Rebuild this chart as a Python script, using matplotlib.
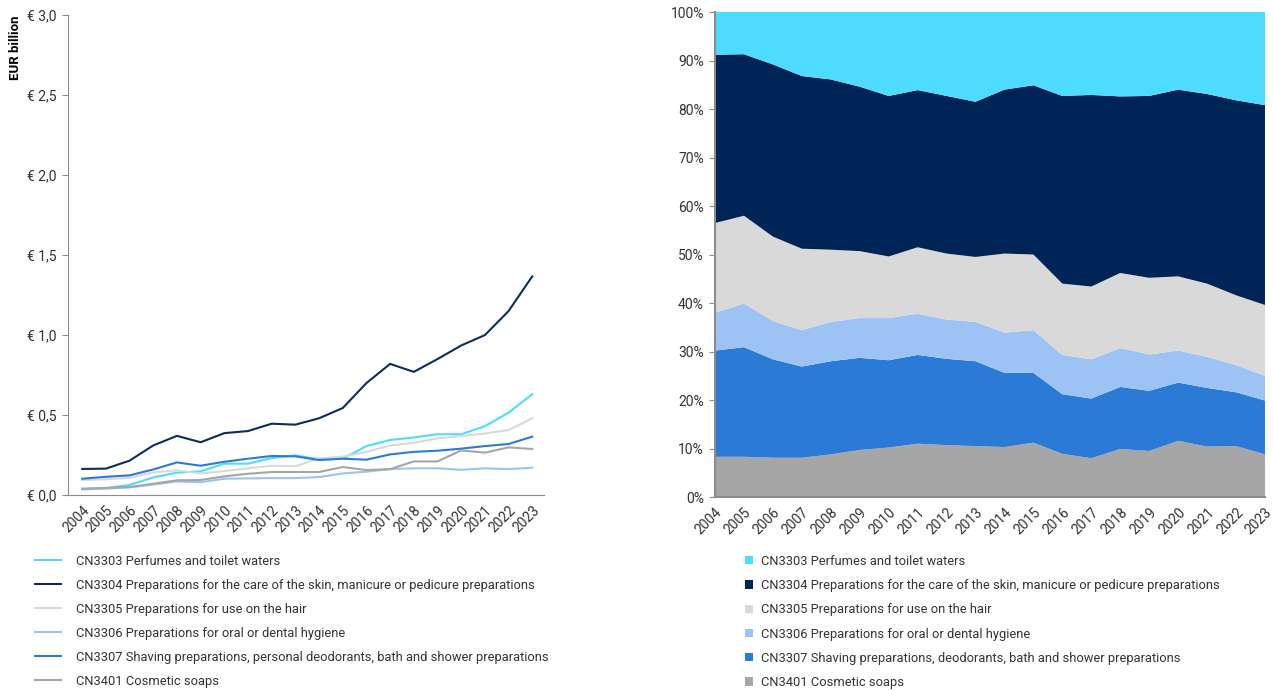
import matplotlib
matplotlib.use('Agg')
from matplotlib import pyplot as plt
from matplotlib.lines import Line2D
from matplotlib.patches import Patch
import numpy as np

plt.rcParams['font.family'] = ['Roboto', 'DejaVu Sans']

years = [str(y) for y in range(2004, 2024)]

labels_left = [
    'CN3303 Perfumes and toilet waters',
    'CN3304 Preparations for the care of the skin, manicure or pedicure preparations',
    'CN3305 Preparations for use on the hair',
    'CN3306 Preparations for oral or dental hygiene',
    'CN3307 Shaving preparations, personal deodorants, bath and shower preparations',
    'CN3401 Cosmetic soaps',
]
labels_right = [
    'CN3303 Perfumes and toilet waters',
    'CN3304 Preparations for the care of the skin, manicure or pedicure preparations',
    'CN3305 Preparations for use on the hair',
    'CN3306 Preparations for oral or dental hygiene',
    'CN3307 Shaving preparations, deodorants, bath and shower preparations',
    'CN3401 Cosmetic soaps',
]
colors = ['#4DDCFF', '#002456', '#D9D9D9', '#9DC3F5', '#2B7BD6', '#A6A6A6']
line_colors = ['#4DDCFF', '#0B2D5E', '#D9D9D9', '#9DC3F5', '#2B7BD6', '#A6A6A6']

# EUR billion
cn3303 = [0.037, 0.044, 0.063, 0.11, 0.14, 0.148, 0.196, 0.196, 0.231, 0.248, 0.223,
          0.227, 0.306, 0.344, 0.36, 0.38, 0.38, 0.43, 0.515, 0.63]
cn3304 = [0.163, 0.165, 0.215, 0.31, 0.37, 0.33, 0.387, 0.40, 0.446, 0.44, 0.48,
          0.544, 0.70, 0.82, 0.77, 0.85, 0.935, 1.0, 1.15, 1.367]
cn3305 = [0.094, 0.098, 0.108, 0.142, 0.154, 0.135, 0.15, 0.167, 0.183, 0.18, 0.229,
          0.24, 0.27, 0.31, 0.327, 0.354, 0.369, 0.385, 0.406, 0.48]
cn3306 = [0.035, 0.04, 0.048, 0.065, 0.085, 0.08, 0.102, 0.104, 0.106, 0.106, 0.112,
          0.135, 0.146, 0.162, 0.167, 0.167, 0.158, 0.167, 0.162, 0.171]
cn3307 = [0.102, 0.114, 0.123, 0.16, 0.204, 0.183, 0.208, 0.227, 0.244, 0.242, 0.219,
          0.227, 0.221, 0.254, 0.27, 0.277, 0.29, 0.306, 0.319, 0.365]
cn3401 = [0.04, 0.044, 0.05, 0.071, 0.092, 0.094, 0.117, 0.133, 0.144, 0.144, 0.144,
          0.175, 0.156, 0.162, 0.21, 0.21, 0.279, 0.265, 0.298, 0.288]

# share of total, %
share_3303 = [8.8, 8.7, 10.8, 13.2, 13.9, 15.4, 17.3, 16.1, 17.3, 18.5, 16.0,
              15.1, 17.3, 17.1, 17.4, 17.3, 16.0, 16.9, 18.2, 19.2]
share_3304 = [34.7, 33.3, 35.5, 35.6, 35.1, 33.9, 33.1, 32.4, 32.5, 32.0, 33.8,
              34.9, 38.7, 39.5, 36.4, 37.5, 38.5, 39.1, 40.2, 41.2]
share_3305 = [18.5, 18.1, 17.4, 16.8, 14.9, 13.8, 12.7, 13.7, 13.6, 13.4, 16.3,
              15.6, 14.7, 15.0, 15.5, 15.8, 15.3, 15.1, 14.4, 14.6]
share_3306 = [7.8, 9.0, 7.9, 7.5, 8.1, 8.2, 8.7, 8.5, 8.1, 8.1, 8.3,
              8.8, 8.1, 8.1, 8.0, 7.5, 6.6, 6.4, 5.6, 5.1]
share_3307 = [21.9, 22.6, 20.3, 18.8, 19.2, 19.0, 18.0, 18.3, 17.8, 17.5, 15.3,
              14.4, 12.3, 12.3, 12.8, 12.4, 12.0, 12.1, 11.1, 11.1]
share_3401 = [8.3, 8.3, 8.1, 8.1, 8.8, 9.7, 10.2, 11.0, 10.7, 10.5, 10.3,
              11.2, 8.9, 8.0, 9.9, 9.5, 11.6, 10.4, 10.5, 8.8]

values = [cn3303, cn3304, cn3305, cn3306, cn3307, cn3401]
shares = [share_3303, share_3304, share_3305, share_3306, share_3307, share_3401]

text_color = '#333333'
spine_color = '#8C8C8C'

fig = plt.figure(figsize=(12.73, 6.91), dpi=100)
ax1 = fig.add_axes([0.0534, 0.2836, 0.374, 0.6944])
ax2 = fig.add_axes([0.5617, 0.2807, 0.432, 0.7019])

x = np.arange(len(years))

# left: line chart
for vals, c in zip(values, line_colors):
    ax1.plot(x, vals, color=c, lw=1.5)
ax1.set_xlim(-0.6, 19.5)
ax1.set_ylim(0, 3.0)
ax1.set_yticks(np.arange(0, 3.01, 0.5))
ax1.set_yticklabels(['€ ' + f'{v:.1f}'.replace('.', ',') for v in np.arange(0, 3.01, 0.5)])
ax1.set_xticks(x)
ax1.set_xticklabels(years, rotation=45, ha='right', rotation_mode='anchor')
ax1.tick_params(axis='x', length=0, pad=6)
ax1.tick_params(axis='y', length=4, color=spine_color, pad=4)
ax1.tick_params(labelsize=10, labelcolor=text_color)
ax1.set_ylabel('EUR billion', fontweight='bold', fontsize=9.5, loc='top', labelpad=4)
for s in ['top', 'right']:
    ax1.spines[s].set_visible(False)
for s in ['left', 'bottom']:
    ax1.spines[s].set_color(spine_color)

# right: 100% stacked area, soaps at the bottom
ax2.stackplot(x, shares[::-1], colors=colors[::-1], lw=0)
ax2.set_xlim(0, 19)
ax2.set_ylim(0, 100)
ax2.set_yticks(np.arange(0, 101, 10))
ax2.set_yticklabels([f'{v}%' for v in range(0, 101, 10)])
ax2.set_xticks(x)
ax2.set_xticklabels(years, rotation=45, ha='right', rotation_mode='anchor')
ax2.tick_params(axis='x', length=0, pad=6)
ax2.tick_params(axis='y', length=4, color=spine_color, pad=4)
ax2.tick_params(labelsize=10, labelcolor=text_color)
for s in ['top', 'right']:
    ax2.spines[s].set_visible(False)
for s in ['left', 'bottom']:
    ax2.spines[s].set_color(spine_color)
    ax2.spines[s].set_linewidth(1.5)

# legends
h1 = [Line2D([0], [0], color=c, lw=1.5) for c in line_colors]
fig.legend(h1, labels_left, loc='upper left', bbox_to_anchor=(0.0275, 0.197),
           frameon=False, fontsize=9.3, labelcolor=text_color, handlelength=2.0,
           handletextpad=1.2, labelspacing=0.85, borderaxespad=0, borderpad=0)
h2 = [Patch(facecolor=c, edgecolor='none') for c in colors]
fig.legend(h2, labels_right, loc='upper left', bbox_to_anchor=(0.5855, 0.197),
           frameon=False, fontsize=9.3, labelcolor=text_color, handlelength=0.6,
           handleheight=0.6, handletextpad=0.6, labelspacing=0.87, borderaxespad=0, borderpad=0)

fig.savefig('out.png', dpi=100)
